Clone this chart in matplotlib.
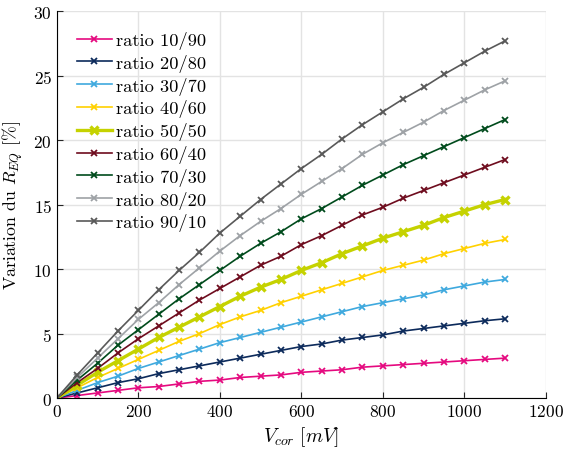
import numpy as np
import matplotlib
matplotlib.use('Agg')
import matplotlib.pyplot as plt

plt.rcParams['font.family'] = 'cmr10'
plt.rcParams['mathtext.fontset'] = 'cm'
plt.rcParams['axes.formatter.use_mathtext'] = True

v_cor = np.arange(0, 1101, 50)

r10_90 = [0, 0.2, 0.4, 0.6, 0.8, 0.9, 1.1, 1.3, 1.4, 1.6, 1.7, 1.8, 2.0, 2.1, 2.2, 2.4, 2.5, 2.6, 2.7, 2.8, 2.9, 3.0, 3.1]
r20_80 = [0, 0.4, 0.8, 1.2, 1.5, 1.9, 2.2, 2.5, 2.8, 3.1, 3.4, 3.7, 4.0, 4.2, 4.5, 4.7, 4.9, 5.2, 5.4, 5.6, 5.8, 6.0, 6.15]
r30_70 = [0, 0.6, 1.2, 1.7, 2.3, 2.8, 3.3, 3.8, 4.3, 4.7, 5.1, 5.5, 5.9, 6.3, 6.7, 7.1, 7.4, 7.7, 8.0, 8.4, 8.7, 9.0, 9.2]
r40_60 = [0, 0.8, 1.6, 2.3, 3.0, 3.7, 4.4, 5.0, 5.7, 6.3, 6.8, 7.4, 7.9, 8.4, 8.9, 9.4, 9.9, 10.3, 10.7, 11.2, 11.6, 12.0, 12.3]
r50_50 = [0, 1.0, 2.0, 2.9, 3.8, 4.7, 5.5, 6.3, 7.1, 7.9, 8.6, 9.2, 9.9, 10.5, 11.2, 11.8, 12.4, 12.9, 13.4, 14.0, 14.5, 15.0, 15.4]
r60_40 = [0, 1.2, 2.3, 3.5, 4.6, 5.6, 6.6, 7.6, 8.5, 9.4, 10.3, 11.0, 11.9, 12.6, 13.4, 14.2, 14.8, 15.5, 16.1, 16.7, 17.3, 17.9, 18.5]
r70_30 = [0, 1.4, 2.7, 4.1, 5.3, 6.5, 7.7, 8.8, 9.9, 11.0, 12.0, 12.9, 13.9, 14.7, 15.6, 16.5, 17.3, 18.1, 18.8, 19.5, 20.2, 20.9, 21.6]
r80_20 = [0, 1.6, 3.1, 4.6, 6.1, 7.4, 8.8, 10.1, 11.4, 12.6, 13.7, 14.7, 15.8, 16.8, 17.8, 18.9, 19.8, 20.6, 21.4, 22.3, 23.1, 23.9, 24.6]
r90_10 = [0, 1.8, 3.5, 5.2, 6.8, 8.4, 9.9, 11.3, 12.8, 14.1, 15.4, 16.6, 17.8, 18.9, 20.1, 21.2, 22.2, 23.2, 24.1, 25.1, 26.0, 26.9, 27.7]

series = [r10_90, r20_80, r30_70, r40_60, r50_50, r60_40, r70_30, r80_20, r90_10]
labels = ['ratio 10/90', 'ratio 20/80', 'ratio 30/70', 'ratio 40/60', 'ratio 50/50',
          'ratio 60/40', 'ratio 70/30', 'ratio 80/20', 'ratio 90/10']
colors = ['#E5097F', '#0C2A5B', '#3FA9DE', '#FFD100', '#C5D200',
          '#6E0C1E', '#004B1C', '#9EA2A6', '#595959']

fig = plt.figure(figsize=(5.68, 4.52), dpi=100)
ax = fig.add_axes([0.100, 0.117, 0.861, 0.856])

for y, lab, c in zip(series, labels, colors):
    if lab == 'ratio 50/50':
        ax.plot(v_cor, y, color=c, marker='x', lw=2.4, ms=5.5, mew=2.4, label=lab)
    else:
        ax.plot(v_cor, y, color=c, marker='x', lw=1.2, ms=5, mew=1.3, label=lab)

ax.set_xlim(0, 1200)
ax.set_ylim(0, 30)
ax.set_xticks(range(0, 1201, 200))
ax.set_yticks(range(0, 31, 5))
ax.grid(True, color='#E3E3E3', lw=1)
ax.set_axisbelow(True)
ax.spines['top'].set_visible(False)
ax.spines['right'].set_visible(False)
ax.tick_params(direction='in', labelsize=12.5, length=4, color='#262626')
ax.set_xlabel(r'$V_{cor}\ [mV]$', fontsize=14)
ax.set_ylabel(r'Variation du $R_{EQ}$ [%]', fontsize=12.8, labelpad=6)

ax.legend(loc='upper left', frameon=False, fontsize=13.3, handlelength=1.85,
          handletextpad=0.25, labelspacing=0.26, borderaxespad=0.0,
          bbox_to_anchor=(0.027, 0.968))

fig.savefig('out.png', dpi=100)
